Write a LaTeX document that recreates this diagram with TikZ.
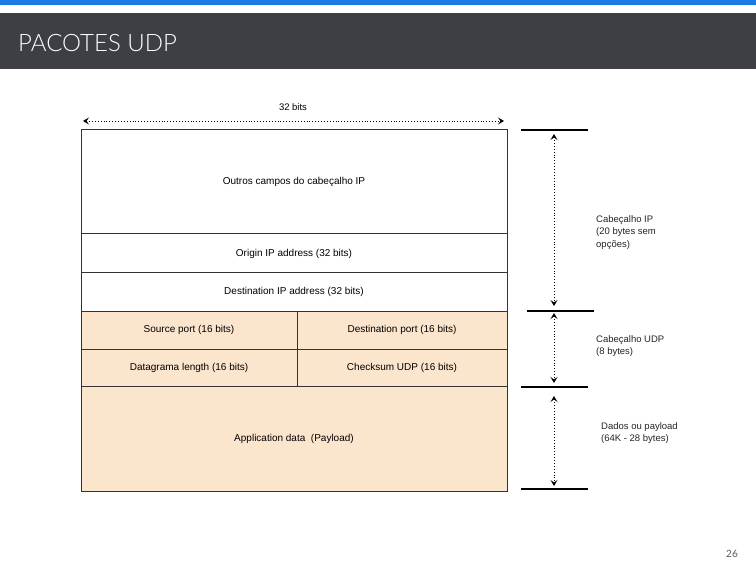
\documentclass[tikz,border=0pt]{standalone}
\usepackage{fontspec}
\setmainfont{Liberation Sans}
\newfontfamily\titlefont{Lato Light}
\newfontfamily\pagefont{Lato}
\usetikzlibrary{arrows.meta}
\definecolor{topblue}{HTML}{1A7AE6}
\definecolor{barbg}{HTML}{3E3F45}
\definecolor{peach}{HTML}{FCE5CD}
\definecolor{boxline}{HTML}{333333}
\tikzset{
  cell/.style={draw=boxline, line width=1pt, inner sep=0pt, font=\fontsize{10}{12}\selectfont},
  udpcell/.style={cell, fill=peach},
  bracketline/.style={line width=1.1pt, black},
  dimarrow/.style={dotted, line width=0.9pt, {Stealth[length=6pt,width=7pt,inset=2.5pt]}-{Stealth[length=6pt,width=7pt,inset=2.5pt]}},
  sidelabel/.style={anchor=north west, align=left, inner sep=0pt, font=\fontsize{9.5}{12.5}\selectfont, text=black!85},
}
\begin{document}
\begin{tikzpicture}[x=1pt,y=-1pt]
\useasboundingbox (0,0) rectangle (756,567);
\fill[white] (0,0) rectangle (756,567);
% header
\fill[topblue] (0,0) rectangle (756,5.5);
\fill[barbg] (0,13) rectangle (756,69);
\node[anchor=base west, inner sep=0pt, text=white, font=\titlefont\fontsize{24}{28}\selectfont] (title) at (18,52) {PACOTES UDP};
% cells
\node[cell, minimum width=426, minimum height=104] (outros) at (294,182) {Outros campos do cabeçalho IP};
\node[cell, minimum width=426, minimum height=39] (origin) at (294,253.5) {Origin IP address (32 bits)};
\node[cell, minimum width=426, minimum height=38] (destip) at (294,292) {Destination IP address (32 bits)};
\node[udpcell, minimum width=216, minimum height=38] (src) at (189,330) {Source port (16 bits)};
\node[udpcell, minimum width=210, minimum height=38] (dstport) at (402,330) {Destination port (16 bits)};
\node[udpcell, minimum width=216, minimum height=37] (len) at (189,367.5) {Datagrama length (16 bits)};
\node[udpcell, minimum width=210, minimum height=37] (chk) at (402,367.5) {Checksum UDP (16 bits)};
\node[udpcell, minimum width=426, minimum height=105] (app) at (294,438.5) {Application data\ \ (Payload)};
% 32 bits
\node[font=\fontsize{9.5}{11}\selectfont, inner sep=0pt] (bits) at (293,107) {32 bits};
\coordinate (hl) at (83,121);
\coordinate (hr) at (504,121);
\draw[dimarrow] (hl) -- (hr);
% bracket lines
\coordinate (l1a) at (521,130); \coordinate (l1b) at (588,130);
\coordinate (l2a) at (527,311); \coordinate (l2b) at (594,311);
\coordinate (l3a) at (521,387); \coordinate (l3b) at (588,387);
\coordinate (l4a) at (521,489); \coordinate (l4b) at (588,489);
\draw[bracketline] (l1a) -- (l1b);
\draw[bracketline] (l2a) -- (l2b);
\draw[bracketline] (l3a) -- (l3b);
\draw[bracketline] (l4a) -- (l4b);
\coordinate (a1s) at (554,134); \coordinate (a1e) at (554,306);
\coordinate (a2s) at (554,313); \coordinate (a2e) at (554,383);
\coordinate (a3s) at (554,396); \coordinate (a3e) at (554,486);
\draw[dimarrow] (a1s) -- (a1e);
\draw[dimarrow] (a2s) -- (a2e);
\draw[dimarrow] (a3s) -- (a3e);
\node[sidelabel] (lip) at (596,215) {Cabeçalho IP\\(20 bytes sem\\opções)};
\node[sidelabel] (ludp) at (596,335) {Cabeçalho UDP\\(8 bytes)};
\node[sidelabel] (ldata) at (601,422) {Dados ou payload\\(64K - 28 bytes)};
% page number
\node[font=\pagefont\fontsize{10}{12}\selectfont, text=black!65, inner sep=0pt] (pg) at (732,554) {26};
\end{tikzpicture}
\end{document}
